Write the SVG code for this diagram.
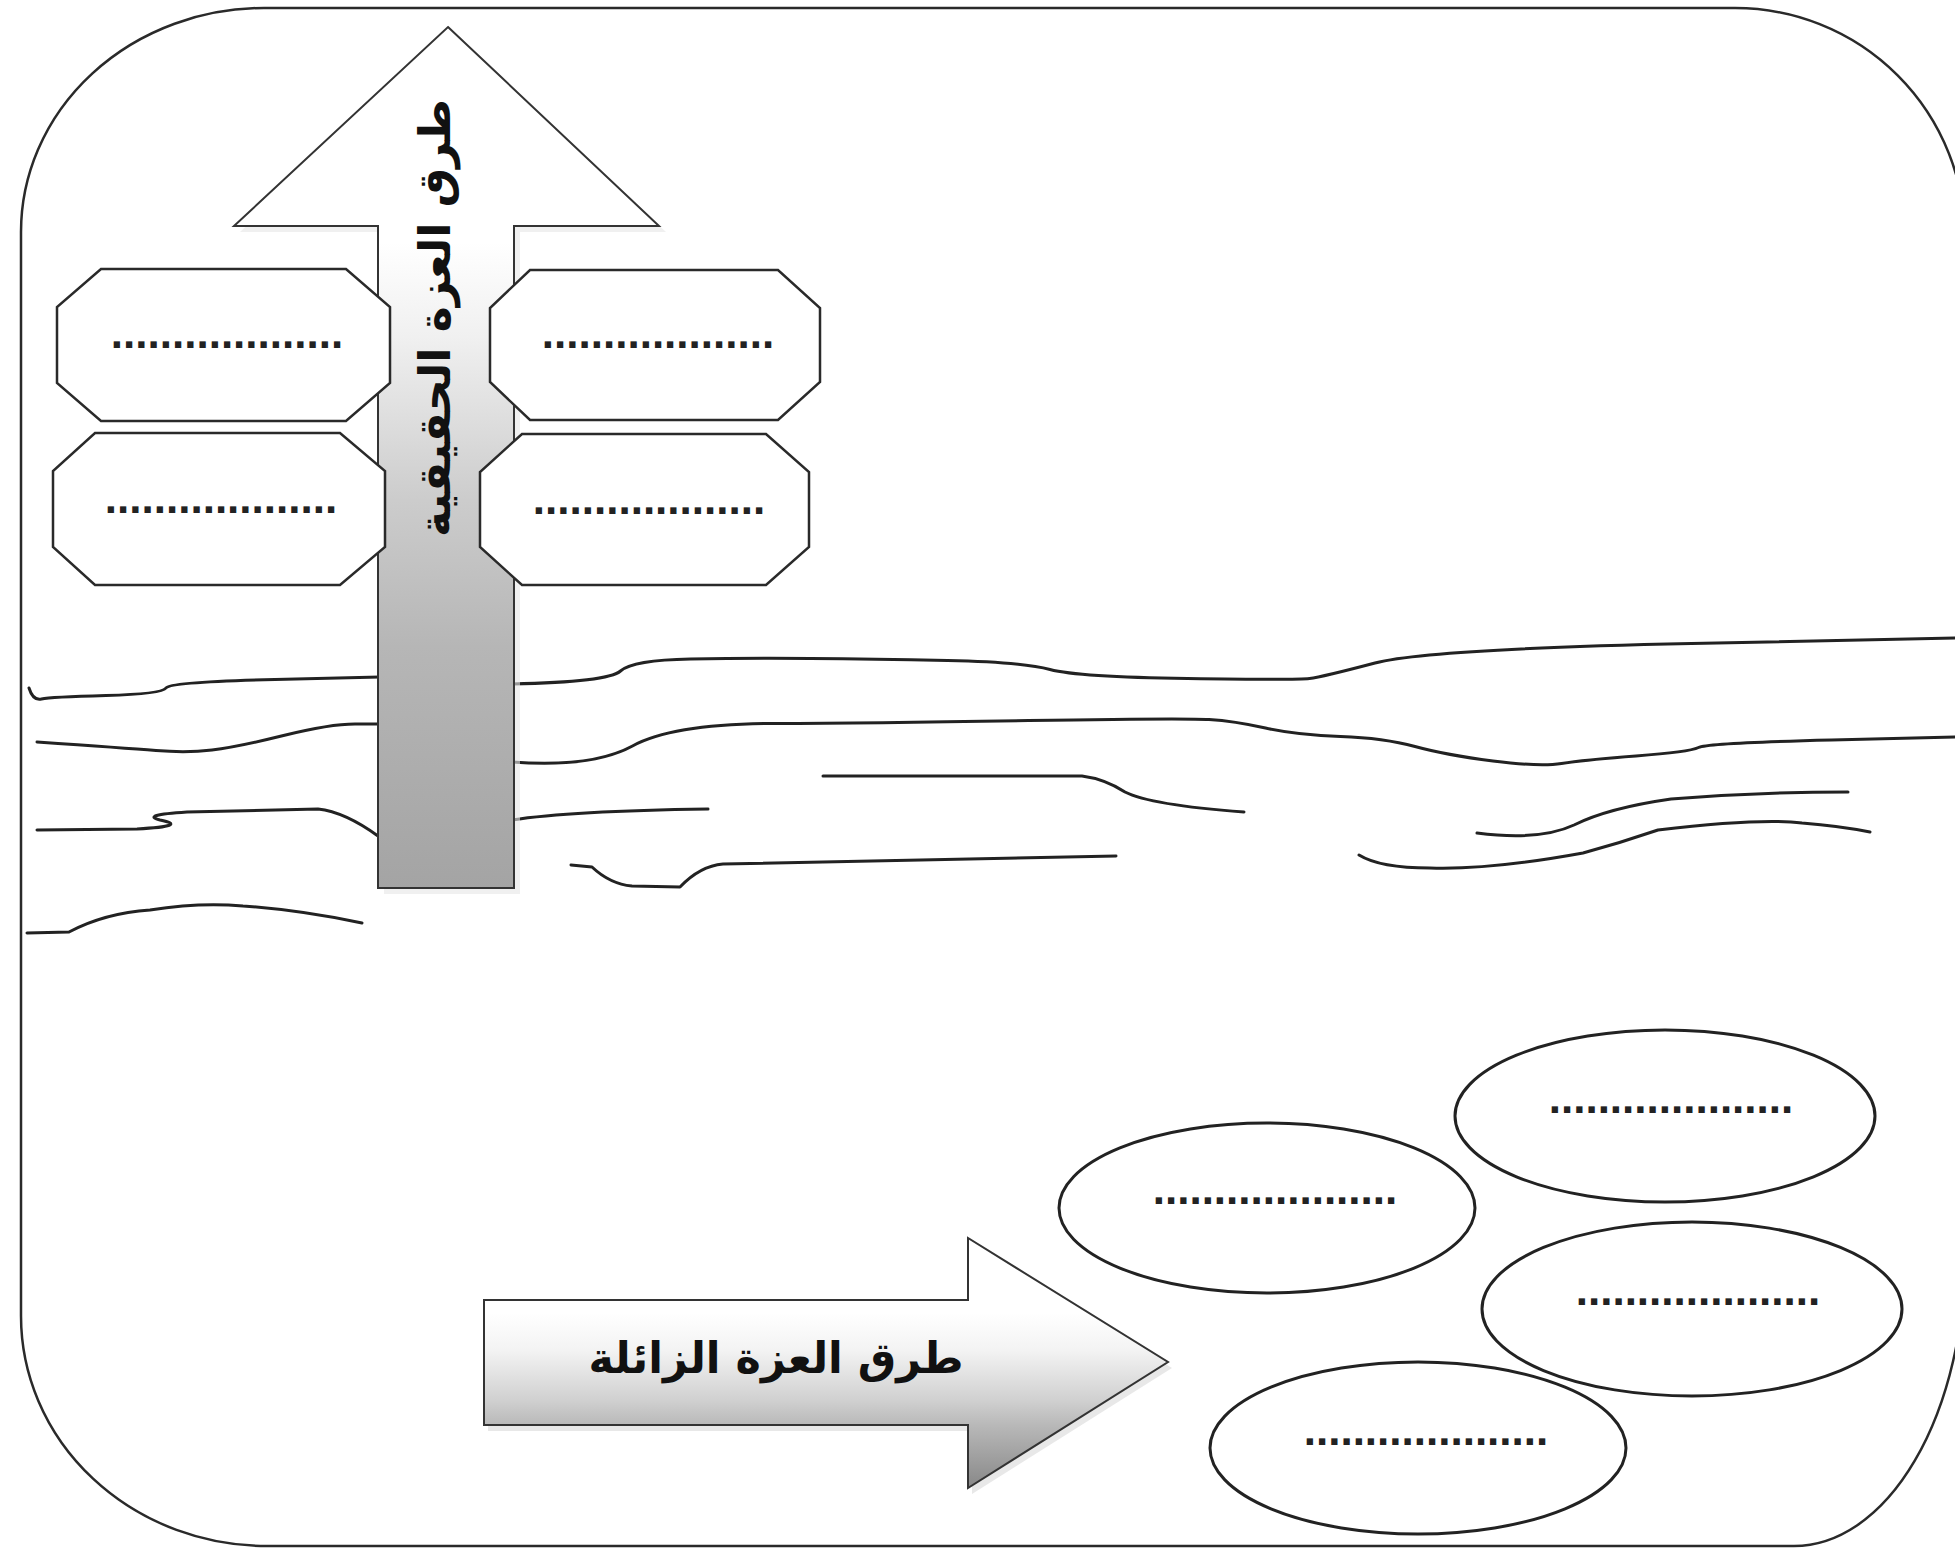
<svg xmlns="http://www.w3.org/2000/svg" width="1955" height="1549" viewBox="0 0 1955 1549">
<defs>
<linearGradient id="gUp" gradientUnits="userSpaceOnUse" x1="0" y1="27" x2="0" y2="888">
<stop offset="0" stop-color="#ffffff"/>
<stop offset="0.25" stop-color="#ffffff"/>
<stop offset="0.36" stop-color="#f0f0f0"/>
<stop offset="0.55" stop-color="#cccccc"/>
<stop offset="0.72" stop-color="#b6b6b6"/>
<stop offset="1" stop-color="#a4a4a4"/>
</linearGradient>
<linearGradient id="gRight" gradientUnits="userSpaceOnUse" x1="0" y1="1238" x2="0" y2="1488">
<stop offset="0" stop-color="#ffffff"/>
<stop offset="0.3" stop-color="#ffffff"/>
<stop offset="0.45" stop-color="#f3f3f3"/>
<stop offset="0.65" stop-color="#d0d0d0"/>
<stop offset="0.75" stop-color="#b8b8b8"/>
<stop offset="1" stop-color="#888888"/>
</linearGradient>
</defs>
<style>
.frame{fill:none;stroke:#2a2a2a;stroke-width:2.5}
.wave{fill:none;stroke:#222;stroke-width:3;stroke-linejoin:round;stroke-linecap:round}
.oct{fill:#fff;stroke:#2a2a2a;stroke-width:2.5;stroke-linejoin:miter}
.ell{fill:none;stroke:#222;stroke-width:3}
.dots{font-family:"Liberation Sans",Arial,sans-serif;font-size:44px;font-weight:bold;fill:#222;text-anchor:middle}
.arrow{stroke:#333;stroke-width:2;stroke-linejoin:miter}
.lbl{font-family:"DejaVu Sans",sans-serif;font-weight:bold;fill:#111;text-anchor:middle}
</style>
<rect width="1955" height="1549" fill="#fff"/>
<path class="frame" d="M 264,8 H 1735 A 230 230 0 0 1 1965 238 V 1254 A 171 292 0 0 1 1794 1546 H 267 A 246 230 0 0 1 21 1316 V 232 A 243 224 0 0 1 264 8 Z"/>
<g id="waves">
<path class="wave" d="M29,688 Q33,701 41.5,699 Q50,697 106,695.5 Q162,694 166,688 Q170,682 275,679.5 L380,677"/>
<path class="wave" d="M512,684 Q608,682 620.5,671 Q633,660 690.5,659 Q748,658 810.5,658.5 Q873,659 947.5,660.5 Q1022,662 1050,669.5 Q1078,677 1187.5,678.5 Q1297,680 1309.5,678.5 Q1322,677 1375,663 Q1428,649 1691.5,643.5 L1955,638"/>
<path class="wave" d="M37,742 Q125,748 156,750.5 Q187,753 212,750 Q237,747 283.5,735.5 Q330,724 355,724 L380,724"/>
<path class="wave" d="M512,762 Q592,768 632.5,746 Q673,724 773,723.5 Q873,723 1028.5,720.5 Q1184,718 1209,719.5 Q1234,721 1265.5,728 Q1297,735 1340.5,736.5 Q1384,738 1415,746.5 Q1446,755 1493,761 Q1540,767 1561.5,763.5 Q1583,760 1636,756 Q1689,752 1698.5,747.5 Q1708,743 1831.5,740 L1955,737"/>
<path class="wave" d="M37,830 L137,829 Q190,826 160,820 Q140,815 187,812 L318,809 Q345,812 378,836"/>
<path class="wave" d="M512,820 Q570,811 708,809"/>
<path class="wave" d="M823,776 L1082,776 Q1105,779 1125,792 Q1150,805 1244,812"/>
<path class="wave" d="M1477,833 Q1540,841 1574,825 Q1608,808 1671,799 Q1760,792 1848,792"/>
<path class="wave" d="M1359,855 Q1380,868 1430,868 Q1490,870 1583,853 Q1620,843 1658,830 Q1760,818 1802,823 Q1840,826 1870,832"/>
<path class="wave" d="M571,865 L592,867 Q610,884 632,886 L680,887 Q700,866 723,864 L1116,856"/>
<path class="wave" d="M27,933 L69,932 Q105,913 150,910 Q200,902 243,906 Q300,910 362,923"/>
</g>
<g id="arrow-up">
<polygon points="452,33 666,232 520,232 520,894 384,894 384,232 240,232" fill="#e6e6e6" opacity="0.6"/>
<polygon class="arrow" fill="url(#gUp)" points="448,27 659,226 514,226 514,888 378,888 378,226 234,226"/>
<text class="lbl" font-size="44" transform="translate(436,318) rotate(-90)" y="14">طرق العزة الحقيقية</text>
</g>
<g id="oct-tl">
<polygon class="oct" points="101,269 346,269 390,307 390,383 346,421 101,421 57,383 57,307"/>
<text class="dots" x="227" y="348">...................</text>
</g>
<g id="oct-tr">
<polygon class="oct" points="530,270 778,270 820,308 820,382 778,420 530,420 490,382 490,308"/>
<text class="dots" x="658" y="348">...................</text>
</g>
<g id="oct-bl">
<polygon class="oct" points="95,433 340,433 385,471 385,547 340,585 95,585 53,547 53,471"/>
<text class="dots" x="221" y="513">...................</text>
</g>
<g id="oct-br">
<polygon class="oct" points="522,434 766,434 809,472 809,547 766,585 522,585 480,547 480,472"/>
<text class="dots" x="649" y="514">...................</text>
</g>
<g id="ell-1">
<ellipse class="ell" cx="1665" cy="1116" rx="210" ry="86"/>
<text class="dots" x="1671" y="1113">....................</text>
</g>
<g id="ell-2">
<ellipse class="ell" cx="1267" cy="1208" rx="208" ry="85"/>
<text class="dots" x="1275" y="1204">....................</text>
</g>
<g id="ell-3">
<ellipse class="ell" cx="1692" cy="1309" rx="210" ry="87"/>
<text class="dots" x="1698" y="1305">....................</text>
</g>
<g id="ell-4">
<ellipse class="ell" cx="1418" cy="1448" rx="208" ry="86"/>
<text class="dots" x="1426" y="1445">....................</text>
</g>
<g id="arrow-right">
<polygon points="488,1306 972,1306 972,1244 1172,1368 972,1494 972,1431 488,1431" fill="#d8d8d8" opacity="0.6"/>
<polygon class="arrow" fill="url(#gRight)" points="484,1300 968,1300 968,1238 1168,1362 968,1488 968,1425 484,1425"/>
<text class="lbl" font-size="43" x="776" y="1373">طرق العزة الزائلة</text>
</g>
</svg>
